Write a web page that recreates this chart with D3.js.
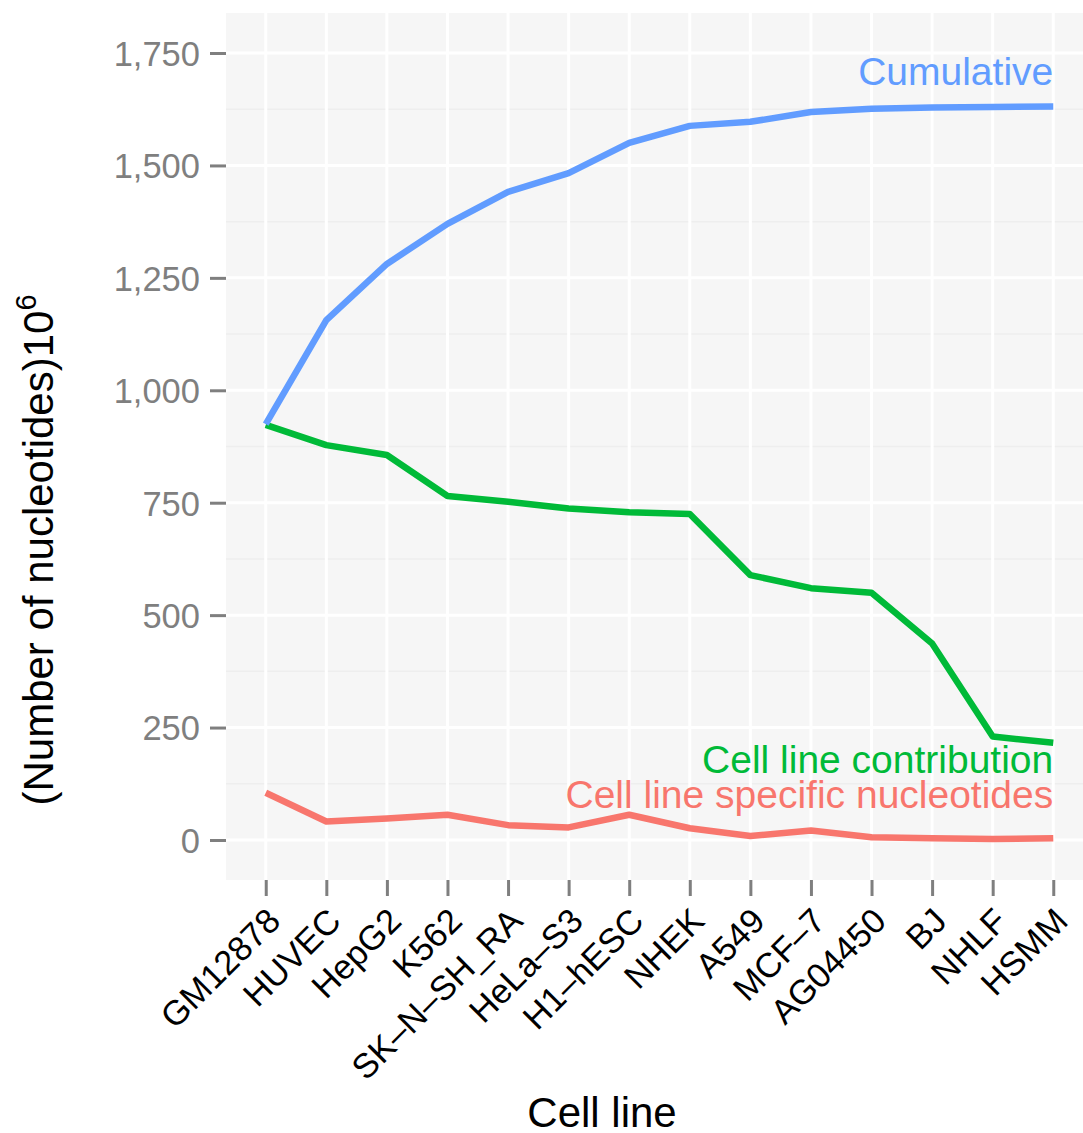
<!DOCTYPE html>
<html>
<head>
<meta charset="utf-8">
<script src="https://cdnjs.cloudflare.com/ajax/libs/d3/7.8.5/d3.min.js"></script>
<style>
  html, body { margin: 0; padding: 0; background: #ffffff; }
  svg { display: block; font-family: "Liberation Sans", Arial, Helvetica, sans-serif; }
</style>
</head>
<body>
<script>
// ---- Data ----
const cellLines = ["GM12878","HUVEC","HepG2","K562","SK\u2013N\u2013SH_RA","HeLa\u2013S3","H1\u2013hESC","NHEK","A549","MCF\u20137","AG04450","BJ","NHLF","HSMM"];
const cumulative   = [925, 1156, 1281, 1370, 1441, 1483, 1550, 1588, 1597, 1619, 1626, 1629, 1630, 1631];
const contribution = [923, 878, 856, 765, 752, 737, 729, 725, 589, 560, 550, 437, 230, 216];
const specific     = [105, 41, 48, 56, 33, 28, 56, 26, 9, 21, 6, 4, 2, 4];
const yTicks = [0, 250, 500, 750, 1000, 1250, 1500, 1750];
const yMinor = [125, 375, 625, 875, 1125, 1375, 1625];
const seriesNames = ["Cumulative", "Cell line contribution", "Cell line specific nucleotides"];
const seriesColors = ["#619CFF", "#00BA38", "#F8766D"];
const labelY = [1679, 149, 71];

// ---- Layout ----
const W = 1083, H = 1133;
const panel = { left: 226, right: 1093, top: 13, bottom: 880 };

const svg = d3.select("body").append("svg").attr("width", W).attr("height", H);

const x = d3.scalePoint().domain(cellLines)
  .range([panel.left, panel.right]).padding(0.656);
const y = d3.scaleLinear().domain([-89, 1839]).range([panel.bottom, panel.top]);

// panel background
svg.append("rect")
  .attr("x", panel.left).attr("y", panel.top)
  .attr("width", panel.right - panel.left).attr("height", panel.bottom - panel.top)
  .attr("fill", "#F6F6F6");

// minor grid
svg.append("g").selectAll("line").data(yMinor).join("line")
  .attr("x1", panel.left).attr("x2", panel.right)
  .attr("y1", d => y(d)).attr("y2", d => y(d))
  .attr("stroke", "#EEEEEE").attr("stroke-width", 1.5);

// major grid
svg.append("g").selectAll("line").data(yTicks).join("line")
  .attr("x1", panel.left).attr("x2", panel.right)
  .attr("y1", d => y(d)).attr("y2", d => y(d))
  .attr("stroke", "#FFFFFF").attr("stroke-width", 3);
svg.append("g").selectAll("line").data(cellLines).join("line")
  .attr("x1", d => x(d)).attr("x2", d => x(d))
  .attr("y1", panel.top).attr("y2", panel.bottom)
  .attr("stroke", "#FFFFFF").attr("stroke-width", 3);

// lines
const line = d3.line().x((d, i) => x(cellLines[i])).y(d => y(d));
const series = [cumulative, contribution, specific];
[2, 1, 0].forEach(k => {
  svg.append("path").datum(series[k])
    .attr("d", line)
    .attr("fill", "none")
    .attr("stroke", seriesColors[k])
    .attr("stroke-width", 6.5)
    .attr("stroke-linejoin", "round")
    .attr("stroke-linecap", "butt");
});

// series labels
seriesNames.forEach((name, k) => {
  svg.append("text")
    .attr("x", x(cellLines[cellLines.length - 1]))
    .attr("y", y(labelY[k]))
    .attr("text-anchor", "end")
    .attr("font-size", 39)
    .attr("fill", seriesColors[k])
    .text(name);
});

// Y axis (ticks + labels)
const yAxis = d3.axisLeft(y).tickValues(yTicks).tickSize(16).tickPadding(10)
  .tickFormat(d3.format(","));
const gy = svg.append("g").attr("transform", `translate(${panel.left},0)`).call(yAxis);
gy.select(".domain").remove();
gy.selectAll(".tick line").attr("stroke", "#7F7F7F").attr("stroke-width", 3);
gy.selectAll(".tick text").attr("fill", "#7F7F7F").attr("font-size", 34.5)
  .attr("font-family", "Liberation Sans, Arial, sans-serif").attr("dy", "0.36em");

// X axis
const xAxis = d3.axisBottom(x).tickSize(16).tickPadding(0);
const gx = svg.append("g").attr("transform", `translate(0,${panel.bottom})`).call(xAxis);
gx.select(".domain").remove();
gx.selectAll(".tick line").attr("stroke", "#7F7F7F").attr("stroke-width", 3);
gx.selectAll(".tick text")
  .attr("fill", "#000000").attr("font-size", 34.5)
  .attr("font-family", "Liberation Sans, Arial, sans-serif")
  .attr("text-anchor", "end")
  .attr("y", 0).attr("dy", 0)
  .attr("transform", "translate(16,43) rotate(-45)");

// Axis titles
svg.append("text")
  .attr("x", 602).attr("y", 1127)
  .attr("text-anchor", "middle")
  .attr("font-size", 42).attr("fill", "#000")
  .text("Cell line");

const yt = svg.append("text")
  .attr("transform", "translate(53,550) rotate(-90)")
  .attr("text-anchor", "middle")
  .attr("font-size", 42).attr("fill", "#000");
yt.append("tspan").text("(Number of nucleotides)10");
yt.append("tspan").attr("font-size", 29).attr("dy", -17).text("6");
</script>
</body>
</html>
